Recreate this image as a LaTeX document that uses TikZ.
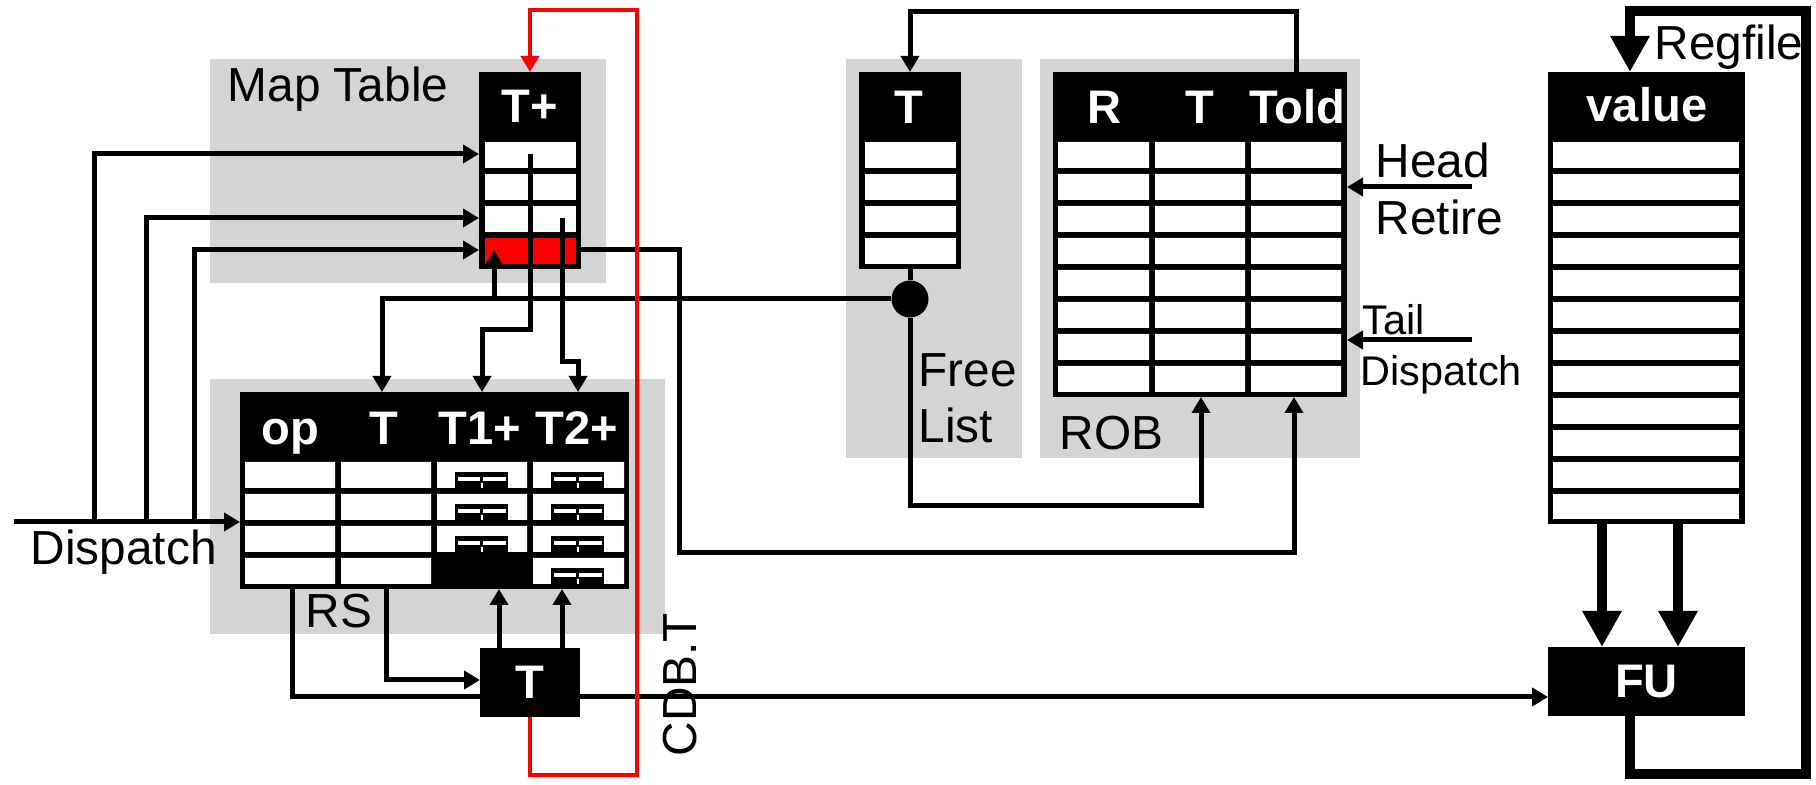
\documentclass[tikz,border=0pt]{standalone}
\usepackage{fontspec}
\setmainfont{Liberation Sans}
\usetikzlibrary{arrows.meta}
\definecolor{panel}{RGB}{212,212,212}
\definecolor{cdbred}{RGB}{255,0,0}
\tikzset{
  blk/.style={fill=black,inner sep=0pt,outer sep=0pt},
  hdr/.style={font=\bfseries\fontsize{13.4pt}{15pt}\selectfont,text=white,inner sep=0pt,anchor=base},
  lab/.style={font=\fontsize{13.6pt}{15pt}\selectfont,inner sep=0pt,anchor=base west},
  note/.style={font=\fontsize{11.8pt}{13pt}\selectfont,inner sep=0pt,anchor=base west},
  wire/.style={line width=0.5mm},
  cdb/.style={line width=0.48mm,draw=cdbred},
  bus/.style={line width=1.05mm},
  arr/.style={-{Triangle[length=1.6mm,width=1.8mm]}},
  bigarr/.style={-{Triangle[length=3.6mm,width=3.7mm]}},
}
\newcommand{\cmpmark}[2]{%
  \fill[black] ({#1+18},{#2+10}) rectangle ({#1+71},{#2+26});
  \fill[white] ({#1+21},{#2+15}) rectangle ({#1+43},{#2+19});
  \fill[white] ({#1+46},{#2+15}) rectangle ({#1+69},{#2+19});
  \fill[white] ({#1+43.5},{#2+21}) rectangle ({#1+45.5},{#2+26});
}

\begin{document}
\begin{tikzpicture}[x=0.1mm,y=-0.1mm]
  \useasboundingbox (0,0) rectangle (1816,785);
  \fill[panel] (210,59) rectangle (606,283);
  \fill[panel] (210,379) rectangle (665,634);
  \fill[panel] (846,59) rectangle (1022,458);
  \fill[panel] (1040,59) rectangle (1360,458);
  \node[blk,minimum width=10.2mm,minimum height=19.7mm] (mt) at (530,170.5) {};
  \node[blk,minimum width=10.2mm,minimum height=19.7mm] (fl) at (910,170.5) {};
  \node[blk,minimum width=29.4mm,minimum height=32.5mm] (rob) at (1200,234.5) {};
  \node[blk,minimum width=38.9mm,minimum height=19.7mm] (rs) at (434.5,490.5) {};
  \node[blk,minimum width=19.7mm,minimum height=45.2mm] (rf) at (1646.5,298) {};
  \node[blk,minimum width=10mm,minimum height=6.9mm,font=\bfseries\fontsize{13.4pt}{15pt}\selectfont,text=white] (tb) at (530,682.5) {T};
  \node[blk,minimum width=19.7mm,minimum height=6.9mm,font=\bfseries\fontsize{13.4pt}{15pt}\selectfont,text=white] (fu) at (1646.5,681.5) {FU};
  \node[circle,fill=black,minimum size=3.7mm,inner sep=0pt] (jn) at (910,299) {};
  \fill[white] (485,142) rectangle (576,168);
  \fill[white] (485,174) rectangle (576,200);
  \fill[white] (485,206) rectangle (576,232);
  \fill[cdbred] (485,238) rectangle (576,264);
  \fill[white] (865,142) rectangle (956,168);
  \fill[white] (865,174) rectangle (956,200);
  \fill[white] (865,206) rectangle (956,232);
  \fill[white] (865,238) rectangle (956,264);
  \fill[white] (1058,142) rectangle (1149,168) (1155,142) rectangle (1245,168) (1251,142) rectangle (1341,168);
  \fill[white] (1058,174) rectangle (1149,200) (1155,174) rectangle (1245,200) (1251,174) rectangle (1341,200);
  \fill[white] (1058,206) rectangle (1149,232) (1155,206) rectangle (1245,232) (1251,206) rectangle (1341,232);
  \fill[white] (1058,238) rectangle (1149,264) (1155,238) rectangle (1245,264) (1251,238) rectangle (1341,264);
  \fill[white] (1058,270) rectangle (1149,296) (1155,270) rectangle (1245,296) (1251,270) rectangle (1341,296);
  \fill[white] (1058,302) rectangle (1149,328) (1155,302) rectangle (1245,328) (1251,302) rectangle (1341,328);
  \fill[white] (1058,334) rectangle (1149,360) (1155,334) rectangle (1245,360) (1251,334) rectangle (1341,360);
  \fill[white] (1058,366) rectangle (1149,392) (1155,366) rectangle (1245,392) (1251,366) rectangle (1341,392);
  \fill[white] (245,462) rectangle (335,488) (341,462) rectangle (431,488) (437,462) rectangle (527,488) (533,462) rectangle (624,488);
  \fill[white] (245,494) rectangle (335,520) (341,494) rectangle (431,520) (437,494) rectangle (527,520) (533,494) rectangle (624,520);
  \fill[white] (245,526) rectangle (335,552) (341,526) rectangle (431,552) (437,526) rectangle (527,552) (533,526) rectangle (624,552);
  \fill[white] (245,558) rectangle (335,584) (341,558) rectangle (431,584) (533,558) rectangle (624,584);
  \cmpmark{437}{462}
  \cmpmark{533}{462}
  \cmpmark{437}{494}
  \cmpmark{533}{494}
  \cmpmark{437}{526}
  \cmpmark{533}{526}
  \cmpmark{533}{558}
  \fill[white] (1553,142) rectangle (1739,168);
  \fill[white] (1553,174) rectangle (1739,200);
  \fill[white] (1553,206) rectangle (1739,232);
  \fill[white] (1553,238) rectangle (1739,264);
  \fill[white] (1553,270) rectangle (1739,296);
  \fill[white] (1553,302) rectangle (1739,328);
  \fill[white] (1553,334) rectangle (1739,360);
  \fill[white] (1553,366) rectangle (1739,392);
  \fill[white] (1553,398) rectangle (1739,424);
  \fill[white] (1553,430) rectangle (1739,456);
  \fill[white] (1553,462) rectangle (1739,488);
  \fill[white] (1553,494) rectangle (1739,519);
  \node[hdr] (mtH) at (530,123) {T+};
  \node[hdr] (flH) at (909,124) {T};
  \node[hdr] (robR) at (1104,124) {R};
  \node[hdr] (robT) at (1200,124) {T};
  \node[hdr] (robO) at (1297,124) {Told};
  \node[hdr] (rfH) at (1647,122) {value};
  \node[hdr] (rsOp) at (290,445) {op};
  \node[hdr] (rsT) at (384,445) {T};
  \node[hdr] (rsT1) at (480,445) {T1+};
  \node[hdr] (rsT2) at (577,445) {T2+};
  \coordinate (dsp) at (14,522);
  \coordinate (d1) at (94,522);
  \coordinate (d2) at (146,522);
  \coordinate (d3) at (194,522);
  \coordinate (mr1) at (530,154);
  \coordinate (mr3) at (562,218);
  \coordinate (mr4) at (494,250);
  \coordinate (k1) at (482,330);
  \coordinate (k2) at (578,362);
  \coordinate (k3) at (382,299);
  \coordinate (k4) at (494,299);
  \coordinate (k5) at (1201,506);
  \coordinate (k6) at (679,553);
  \coordinate (k7) at (1294,553);
  \coordinate (k8) at (1296,12);
  \coordinate (k9) at (910,12);
  \coordinate (k10) at (292,697);
  \coordinate (k11) at (386,680);
  \coordinate (u1) at (499,0);
  \coordinate (u2) at (562,0);
  \coordinate (hd) at (1472,187);
  \coordinate (tl) at (1472,340);
  \coordinate (c1) at (530,775);
  \coordinate (c2) at (637,775);
  \coordinate (c3) at (637,10);
  \coordinate (c4) at (530,10);
  \coordinate (b1) at (1630,774);
  \coordinate (b2) at (1806,774);
  \coordinate (b3) at (1806,11);
  \coordinate (b4) at (1630,11);
  \coordinate (p1) at (1602,0);
  \coordinate (p2) at (1678,0);
  \draw[wire,arr] (dsp) -- (dsp -| rs.west);
  \draw[wire,arr] (d1) |- (mr1 -| mt.west);
  \draw[wire,arr] (d2) |- (mr3 -| mt.west);
  \draw[wire,arr] (d3) |- (mr4 -| mt.west);
  \draw[wire,arr] (mr1) |- (k1) -- (k1 |- rs.north);
  \draw[wire,arr] (mr3) |- (k2) -- (k2 |- rs.north);
  \draw[wire] (fl.south) -- (jn);
  \draw[wire,arr] (jn) -- (k3) -- (k3 |- rs.north);
  \draw[wire,arr] (k4) -- (mr4);
  \draw[wire,arr] (jn) |- (k5) -- (k5 |- rob.south);
  \draw[wire,arr] (mr4 -| mt.east) -| (k6) -- (k7) -- (k7 |- rob.south);
  \draw[wire,arr] (k8 |- rob.north) -- (k8) -- (k9) -- (fl.north);
  \draw[wire] (k10 |- rs.south) -- (k10) -- (k10 -| tb.west);
  \draw[wire,arr] (k10 -| tb.east) -- (k10 -| fu.west);
  \draw[wire,arr] (k11 |- rs.south) -- (k11) -- (k11 -| tb.west);
  \draw[wire,arr] (u1 |- tb.north) -- (u1 |- rs.south);
  \draw[wire,arr] (u2 |- tb.north) -- (u2 |- rs.south);
  \draw[wire,arr] (hd) -- (hd -| rob.east);
  \draw[wire,arr] (tl) -- (tl -| rob.east);
  \draw[cdb,arr] (tb.south) -- (c1) -- (c2) -- (c3) -- (c4) -- (mt.north);
  \draw[bus,bigarr] (b1 |- fu.south) -- (b1) -- (b2) -- (b3) -- (b4) -- (b4 |- rf.north);
  \draw[bus,bigarr] (p1 |- rf.south) -- (p1 |- fu.north);
  \draw[bus,bigarr] (p2 |- rf.south) -- (p2 |- fu.north);
  \node[lab] (mtLab) at (227,102) {Map Table};
  \node[lab] (dspLab) at (30,565) {Dispatch};
  \node[lab] (rsLab) at (305,628) {RS};
  \node[lab] (flLab1) at (918,387) {Free};
  \node[lab] (flLab2) at (918,443) {List};
  \node[lab] (robLab) at (1059,450) {ROB};
  \node[lab] (headLab) at (1375,178) {Head};
  \node[lab] (retLab) at (1375,235) {Retire};
  \node[note] (tailLab) at (1362,335) {Tail};
  \node[note] (dsp2Lab) at (1360,386) {Dispatch};
  \node[lab] (rfLab) at (1654,60) {Regfile};
  \node[lab,rotate=90] (cdbLab) at (696,757) {CDB.T};
\end{tikzpicture}
\end{document}
